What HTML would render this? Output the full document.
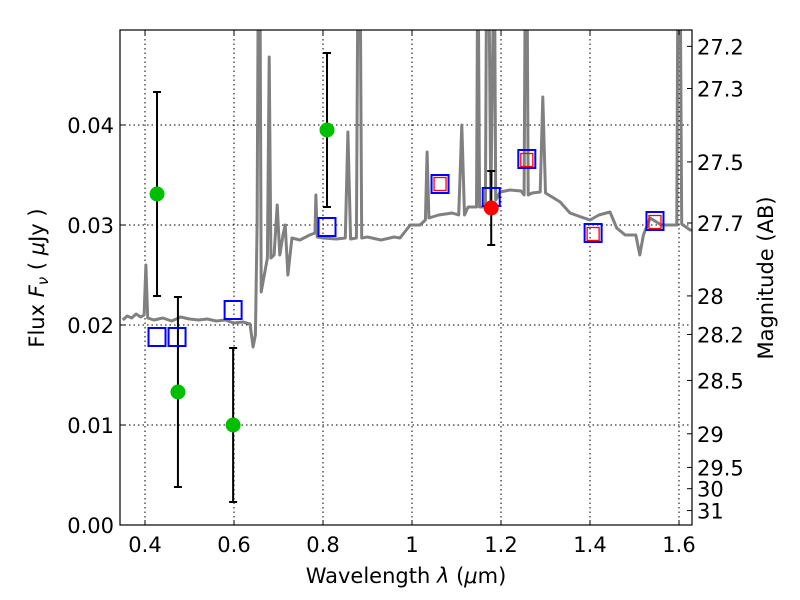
<!DOCTYPE html>
<html><head><meta charset="utf-8">
<style>
body{margin:0;background:#fff;}
svg{display:block;font-family:"DejaVu Sans","Liberation Sans",sans-serif;}
</style></head>
<body>
<svg id="chart" width="800" height="600" viewBox="0 0 800 600">
<defs><clipPath id="clip"><rect x="120" y="30" width="572" height="495"/></clipPath></defs>
<rect x="0" y="0" width="800" height="600" fill="#fff"/>
<g id="grid"></g>
<g id="spec" clip-path="url(#clip)"></g>
<g id="marks"></g>
<rect x="120" y="30" width="572" height="495" fill="none" stroke="#000" stroke-width="1.2"/>
<g id="axes"></g>
<text x="406" y="583" font-size="21" text-anchor="middle">Wavelength  <tspan font-style="italic">λ</tspan> (<tspan font-style="italic">μ</tspan>m)</text>
<text transform="translate(44,278) rotate(-90)" font-size="21" text-anchor="middle">Flux  <tspan font-style="italic">F<tspan font-size="15" dy="4">ν</tspan></tspan><tspan dy="-4">  ( </tspan><tspan font-style="italic">μ</tspan>Jy )</text>
<text transform="translate(773,278) rotate(-90)" font-size="21" text-anchor="middle">Magnitude (AB)</text>
</svg>
<script>
const specLam = [0.35,0.36,0.37,0.38,0.39,0.398,0.402,0.406,0.42,0.44,0.46,0.48,0.5,0.52,0.54,0.56,0.58,0.6,0.62,0.636,0.643,0.648,0.652,0.655,0.658,0.661,0.668,0.675,0.679,0.683,0.69,0.697,0.703,0.71,0.715,0.721,0.73,0.748,0.77,0.782,0.784,0.787,0.8,0.83,0.85,0.856,0.862,0.875,0.879,0.883,0.887,0.9,0.93,0.96,0.973,0.996,1.018,1.03,1.034,1.038,1.06,1.09,1.105,1.112,1.118,1.126,1.145,1.148,1.152,1.165,1.168,1.172,1.177,1.185,1.188,1.192,1.198,1.22,1.245,1.252,1.255,1.258,1.261,1.27,1.288,1.294,1.3,1.333,1.355,1.38,1.4,1.42,1.445,1.46,1.479,1.503,1.512,1.52,1.535,1.56,1.595,1.598,1.602,1.606,1.625,1.63];
const specFlux = [0.0205,0.0209,0.0207,0.0211,0.0208,0.021,0.026,0.0207,0.0205,0.0207,0.0204,0.0208,0.0206,0.0205,0.0206,0.0204,0.0205,0.0202,0.0203,0.0201,0.0178,0.019,0.03,0.06,0.06,0.0233,0.025,0.0267,0.0468,0.0267,0.027,0.032,0.027,0.029,0.030,0.025,0.0287,0.0285,0.029,0.0292,0.033,0.0288,0.0287,0.0286,0.0287,0.0393,0.0286,0.0287,0.06,0.06,0.0287,0.0288,0.0285,0.0288,0.0287,0.030,0.030,0.0305,0.0373,0.0307,0.031,0.0312,0.031,0.040,0.031,0.0318,0.0318,0.06,0.0318,0.0318,0.06,0.06,0.032,0.06,0.0325,0.0328,0.0333,0.0335,0.0334,0.033,0.06,0.06,0.033,0.0332,0.0333,0.0428,0.0332,0.0323,0.0312,0.0308,0.0305,0.031,0.0313,0.0297,0.029,0.029,0.027,0.029,0.0307,0.030,0.030,0.06,0.06,0.0301,0.0295,0.0295];
const greenLam = [0.427,0.474,0.598,0.809];
const greenFlux = [0.0331,0.0133,0.0100,0.0395];
const greenErr = [0.0102,0.0095,0.0077,0.0077];
const redLam = [1.178];
const redFlux = [0.0317];
const redErr = [0.0037];
const blueLam = [0.427,0.472,0.598,0.809,1.063,1.178,1.258,1.407,1.546];
const blueFlux = [0.0188,0.0188,0.0215,0.0298,0.0341,0.0328,0.0366,0.0292,0.0304];
const redSqLam = [1.063,1.258,1.407,1.546];
const redSqFlux = [0.0341,0.0365,0.0291,0.0303];
const xTicks = [0.4,0.6,0.8,1.0,1.2,1.4,1.6];
const xTickLabels = ["0.4","0.6","0.8","1","1.2","1.4","1.6"];
const yTicks = [0,0.01,0.02,0.03,0.04];
const yTickLabels = ["0.00","0.01","0.02","0.03","0.04"];
const magTicks = [27.2,27.3,27.5,27.7,28,28.2,28.5,29,29.5,30,31];
const magTickLabels = ["27.2","27.3","27.5","27.7","28","28.2","28.5","29","29.5","30","31"];

const NS="http://www.w3.org/2000/svg";
const X0=120,X1=692,Y0=525,Y1=30, LMIN=0.3438, LMAX=1.6292, FMAX=0.0495;
const xS=l=>X0+(l-LMIN)/(LMAX-LMIN)*(X1-X0);
const yS=f=>Y0-f/FMAX*(Y0-Y1);
const magToF=m=>Math.pow(10,(23.9-m)/2.5);
function mk(tag,attrs,parent){const e=document.createElementNS(NS,tag);for(const k in attrs)e.setAttribute(k,attrs[k]);parent.appendChild(e);return e;}
const grid=document.getElementById('grid'),axes=document.getElementById('axes'),spec=document.getElementById('spec'),marks=document.getElementById('marks');

xTicks.forEach((t,i)=>{const x=xS(t);
 const g=mk('line',{x1:x,x2:x,y1:Y1,y2:Y0,stroke:'#000','stroke-width':1,'stroke-dasharray':'1.5,3'},grid);
 
 
 const t1=mk('line',{x1:x,x2:x,y1:Y0,y2:Y0-5,stroke:'#000'},axes);
 
 
 const t2=mk('line',{x1:x,x2:x,y1:Y1,y2:Y1+5,stroke:'#000'},axes);
 
 
 const lb=mk('text',{x:x,y:552,'font-size':21,'text-anchor':'middle'},axes);lb.textContent=xTickLabels[i];
 
 
});
yTicks.forEach((t,i)=>{const y=yS(t);
 const g=mk('line',{x1:X0,x2:X1,y1:y,y2:y,stroke:'#000','stroke-width':1,'stroke-dasharray':'1.5,3'},grid);
 
 
 const t1=mk('line',{x1:X0,x2:X0+5,y1:y,y2:y,stroke:'#000'},axes);
 
 
 const lb=mk('text',{x:114,y:y+8,'font-size':21,'text-anchor':'end'},axes);lb.textContent=yTickLabels[i];
 
 
});
magTicks.forEach((m,i)=>{const y=yS(magToF(m));
 const t1=mk('line',{x1:X1,x2:X1-5,y1:y,y2:y,stroke:'#000'},axes);
 
 
 const lb=mk('text',{x:697,y:y+8,'font-size':21},axes);lb.textContent=magTickLabels[i];
 
 
});

const pts=specLam.map((l,i)=>xS(l).toFixed(1)+','+yS(specFlux[i]).toFixed(1)).join(' ');
const pl=mk('polyline',{points:pts,fill:'none',stroke:'#808080','stroke-width':3,'stroke-linejoin':'round'},spec);



function errbar(l,f,e,name){const x=xS(l),ya=yS(f+e),yb=yS(f-e);
 const g=mk('g',{stroke:'#000','stroke-width':2},marks);
 
 
 mk('line',{x1:x,x2:x,y1:ya,y2:yb},g);mk('line',{x1:x-4,x2:x+4,y1:ya,y2:ya},g);mk('line',{x1:x-4,x2:x+4,y1:yb,y2:yb},g);}
greenLam.forEach((l,i)=>errbar(l,greenFlux[i],greenErr[i],'green-errorbar'));
redLam.forEach((l,i)=>errbar(l,redFlux[i],redErr[i],'red-errorbar'));
blueLam.forEach((l,i)=>{const x=xS(l),y=yS(blueFlux[i]);
 const r=mk('rect',{x:x-8.5,y:y-9,width:17,height:18,fill:'none',stroke:'#0000ff','stroke-width':2},marks);
 
 
});
redSqLam.forEach((l,i)=>{const x=xS(l),y=yS(redSqFlux[i]);
 const r=mk('rect',{x:x-6,y:y-6.5,width:12,height:13,fill:'none',stroke:'#ff0000','stroke-width':1.3},marks);
 
 
});
greenLam.forEach((l,i)=>{const c=mk('circle',{cx:xS(l),cy:yS(greenFlux[i]),r:7.5,fill:'#00bf00'},marks);
 
 
});
redLam.forEach((l,i)=>{const c=mk('circle',{cx:xS(l),cy:yS(redFlux[i]),r:7.5,fill:'#ff0000'},marks);
 
 
});
</script>
</body></html>
